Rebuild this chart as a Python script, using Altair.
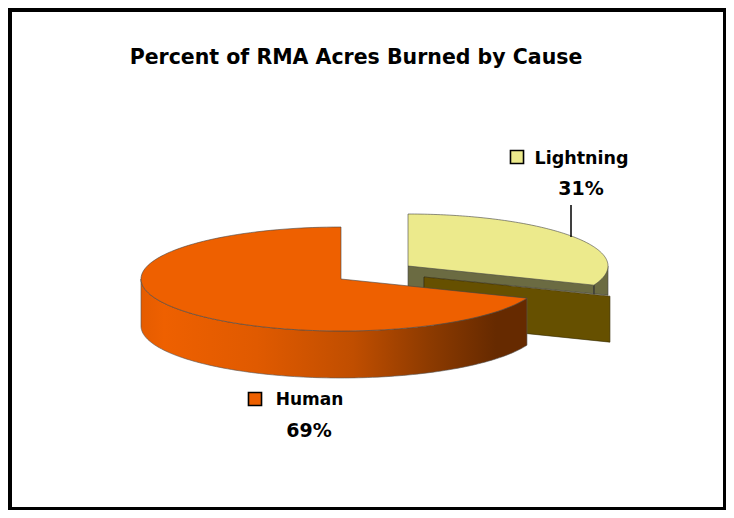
import math
import altair as alt
import pandas as pd

# --- chart values
title_text = "Percent of RMA Acres Burned by Cause"
categories = ["Lightning", "Human"]
shares = [31, 69]

# --- look
C_LIGHT, C_OLIVE, C_DARK, C_HUMAN = "#ECEA8C", "#6B6B42", "#665000", "#EE6000"
FONT = "DejaVu Sans"

# --- pie geometry (pixels of the picture)
RX, RY, DEPTH = 200, 52, 47
HUMAN_C = (341, 279)
LIGHT_C = (408, 266)
SHIFT = (16, 11)
RIGHT, BOTTOM = 726, 510

sweep = shares[0] / 100 * 360
x_s = alt.Scale(domain=[8, RIGHT], nice=False, zero=False)
y_s = alt.Scale(domain=[8, BOTTOM], reverse=True, nice=False, zero=False)
X = alt.X("x:Q", scale=x_s, axis=None)
Y = alt.Y("y:Q", scale=y_s, axis=None)


def rim(c, a0, a1, n=120):
    """Points of the ellipse; angles clockwise from 12 o'clock, in degrees."""
    out = []
    for i in range(n + 1):
        a = math.radians(a0 + (a1 - a0) * i / n)
        out.append((c[0] + RX * math.sin(a), c[1] - RY * math.cos(a)))
    return out


def poly(pts, fill, stroke="#444444", width=0.6):
    df = pd.DataFrame({"x": [p[0] for p in pts], "y": [p[1] for p in pts], "o": range(len(pts))})
    return alt.Chart(df).mark_line(
        fill=fill, stroke=stroke, strokeWidth=width, interpolate="linear-closed"
    ).encode(x=X, y=Y, order="o:Q")


def label(txt, x, y, size=20, align="center"):
    df = pd.DataFrame({"x": [x], "y": [y], "t": [txt]})
    return alt.Chart(df).mark_text(
        font=FONT, fontSize=size, fontWeight="bold", color="black", align=align, baseline="middle"
    ).encode(x=X, y=Y, text="t:N")


def key(x, y, fill):
    df = pd.DataFrame({"x": [x], "y": [y]})
    return alt.Chart(df).mark_square(
        size=170, fill=fill, stroke="black", strokeWidth=1.6, opacity=1
    ).encode(x=X, y=Y)


# frame
frame = pd.DataFrame({
    "x": [8, RIGHT - 3, 8, 8], "x2": [12, RIGHT, RIGHT, RIGHT],
    "y": [8, 8, 8, BOTTOM - 3], "y2": [BOTTOM, BOTTOM, 12, BOTTOM],
})
frame_layer = alt.Chart(frame).mark_rect(color="black").encode(x=X, x2="x2:Q", y=Y, y2="y2:Q")

# lightning slice
end_l = rim(LIGHT_C, sweep, sweep, 1)[0]
right_l = rim(LIGHT_C, 90, 90, 1)[0]
start_d = (LIGHT_C[0] + SHIFT[0], LIGHT_C[1] + SHIFT[1])
end_d = (end_l[0] + SHIFT[0], end_l[1] + SHIFT[1])
olive = poly(
    [LIGHT_C, right_l, (right_l[0], end_d[1] - 1), start_d, (start_d[0], start_d[1] + 24), (LIGHT_C[0], start_d[1] + 24)],
    C_OLIVE,
)
dark = poly([start_d, end_d, (end_d[0], end_d[1] + 46), (start_d[0], start_d[1] + 46)], C_DARK, "#332800")
tick = poly([end_l, (end_l[0], end_l[1] + 9)], C_OLIVE, "#333333", 0.8)
light_top = poly([LIGHT_C] + rim(LIGHT_C, 0, sweep), C_LIGHT)

# human slice
wall_pts = rim(HUMAN_C, sweep, 270)[::-1]
wall_df = pd.DataFrame({
    "x": [p[0] for p in wall_pts],
    "y": [p[1] for p in wall_pts],
    "y2": [p[1] + DEPTH for p in wall_pts],
})
grad = alt.Gradient(
    gradient="linear", x1=0, x2=1, y1=0, y2=0,
    stops=[
        alt.GradientStop(offset=0, color="#E55C00"),
        alt.GradientStop(offset=0.06, color="#EE6000"),
        alt.GradientStop(offset=0.3, color="#E05A00"),
        alt.GradientStop(offset=0.55, color="#C04E00"),
        alt.GradientStop(offset=0.75, color="#8C3A00"),
        alt.GradientStop(offset=0.92, color="#662A00"),
        alt.GradientStop(offset=1, color="#662A00"),
    ],
)
human_wall = alt.Chart(wall_df).mark_area(fill=grad, stroke="#555555", strokeWidth=0.6).encode(x=X, y=Y, y2="y2:Q")
human_top = poly([HUMAN_C] + rim(HUMAN_C, sweep, 360), C_HUMAN)

# leader
leader = poly([(571, 205), (571, 237)], "black", "black", 1)

chart = alt.layer(
    frame_layer, olive, dark, tick, light_top, human_wall, human_top, leader,
    label(title_text, 356, 58, 20.5),
    key(517, 157, C_LIGHT), label(categories[0], 581.5, 159, 17.5),
    label(f"{shares[0]}%", 581, 189, 19),
    key(255, 399, C_HUMAN), label(categories[1], 309.5, 400, 17),
    label(f"{shares[1]}%", 309, 431, 19),
).properties(
    width=RIGHT - 8, height=BOTTOM - 8, padding=0,
    autosize=alt.AutoSizeParams(type="none"),
    background="white",
).configure_view(stroke=None)

chart.save("out.html", embed_options={"renderer": "svg", "actions": False})
